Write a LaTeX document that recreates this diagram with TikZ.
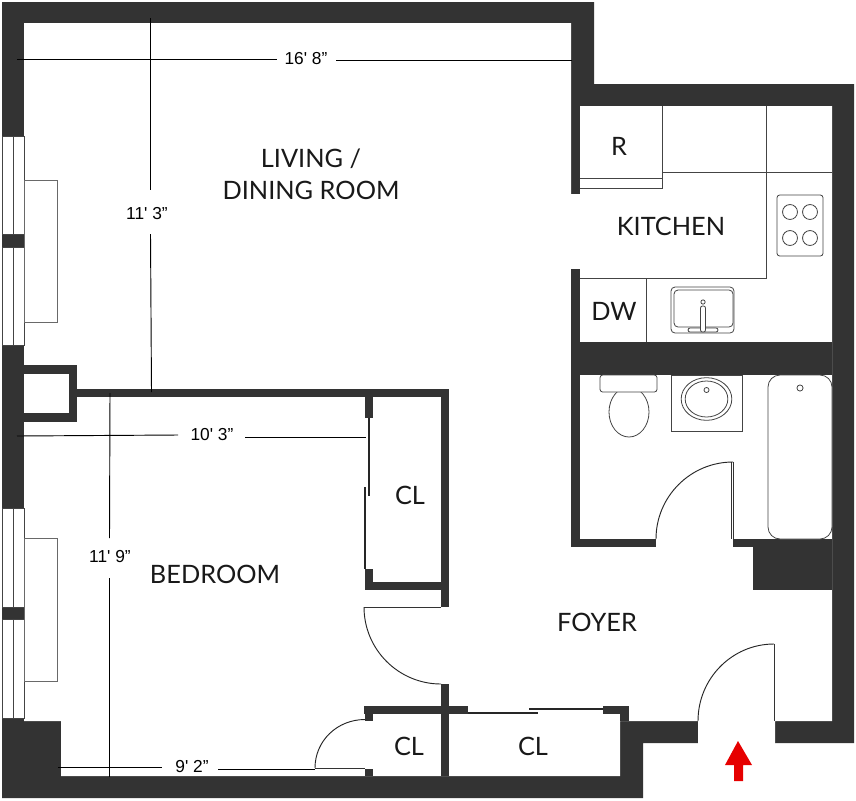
\documentclass[tikz,border=0pt]{standalone}
\usepackage{fontspec}
\setmainfont{Lato}
\newfontfamily\dimfont{Liberation Sans}
\definecolor{wallc}{HTML}{333333}
\definecolor{fixc}{HTML}{444444}
\definecolor{arrowc}{HTML}{E60000}
\tikzset{
  wall/.style={fill=wallc,draw=none},
  room/.style={fill=white,draw=none},
  fixture/.style={draw=fixc,line width=0.6pt,fill=white},
  fixline/.style={draw=fixc,line width=0.6pt},
  winpane/.style={fill=white,draw=fixc,line width=0.5pt},
  radiator/.style={fill=white,draw=fixc!80,line width=0.55pt},
  doorarc/.style={draw=black!85,line width=0.7pt},
  leaf/.style={draw=black!80,line width=0.75pt},
  slider/.style={draw=black!85,line width=1pt},
  dimline/.style={draw=black,line width=0.7pt},
  roomlabel/.style={font=\fontsize{19}{22}\selectfont,text=black!90,inner sep=0pt,align=center},
  dimlabel/.style={font=\dimfont\fontsize{13}{15}\selectfont,text=black,inner sep=0pt},
}
\begin{document}
\begin{tikzpicture}[x=0.75pt,y=-0.75pt]
\useasboundingbox (0,0) rectangle (856,800);
% outer shell and floor area
\fill[wall] (2,2)--(594,2)--(594,84)--(854,84)--(854,743)--(775,743)--(775,721)--(698,721)--(698,743)--(643,743)--(643,798)--(2,798)--cycle;
\fill[room] (24,23)--(571,23)--(571,194)--(580,194)--(580,106)--(832,106)--(832,721)--(775,721)--(775,743)--(698,743)--(698,721)--(620,721)--(620,776)--(61,776)--(61,721)--(24,721)--cycle;
% inner walls
\fill[wall] (571,269) rectangle (580,547);
\fill[wall] (580,342) rectangle (832,375);
\fill[wall] (580,539) rectangle (656,547);
\fill[wall] (733,539) rectangle (753,547);
\fill[wall] (753,539) rectangle (832,590);
\fill[wall] (24,365) rectangle (77,422);
\fill[room] (24,374) rectangle (69,413);
\fill[wall] (77,389) rectangle (449,397);
\fill[wall] (441,389) rectangle (449,607);
\fill[wall] (365,397) rectangle (373,418);
\fill[wall] (365,569) rectangle (373,590);
\fill[wall] (365,582) rectangle (441,590);
\fill[wall] (441,684) rectangle (449,776);
\fill[wall] (364,706) rectangle (468,714);
\fill[wall] (365,714) rectangle (373,721);
\fill[wall] (365,769) rectangle (373,776);
\fill[wall] (603,706) rectangle (629,714);
\fill[wall] (620,706) rectangle (629,721);
% windows
\foreach \ya/\yb in {136/234,247/345,508/607,619/718}{
  \path[winpane] (2,\ya) rectangle (13,\yb);
  \path[winpane] (13,\ya) rectangle (24,\yb);
}
% radiators
\path[radiator] (24,180) rectangle (57,322);
\path[radiator] (24,538) rectangle (57,681);
% kitchen fittings
\draw[fixline] (580,178)--(662,178);
\draw[fixline] (580,188)--(662,188)--(662,106);
\draw[fixline] (662,172)--(832,172);
\draw[fixline] (766,106)--(766,278)--(580,278);
\draw[fixline] (646,278)--(646,342);
\path[fixture,rounded corners=2pt] (777,195) rectangle (823,256);
\foreach \cx in {790,810}{\foreach \cy in {212,238}{
  \draw[fixline] (\cx,\cy) circle[radius=5.6pt];
}}
\path[fixture,rounded corners=3pt] (671,287) rectangle (734,333);
\path[fixline,rounded corners=3pt] (674,290) rectangle (733,327);
\path[fixture,rounded corners=1.5pt] (688,328) rectangle (718,332);
\path[fixture,rounded corners=1.5pt] (700.5,306) rectangle (705.5,332);
\draw[fixline] (703,302) circle[radius=1.6pt];
% bathroom fittings
\path[fixture] (629,412) ellipse[x radius=15pt,y radius=18.75pt];
\path[fixture,rounded corners=2pt] (600,375) rectangle (657,392);
\path[fixture] (671,375) rectangle (742,431);
\draw[fixline] (706.5,399) ellipse[x radius=19pt,y radius=16pt];
\draw[fixline] (706.5,399) ellipse[x radius=16pt,y radius=13.5pt];
\path[fixture] (706.5,390) circle[radius=1.9pt];
\path[fixture,rounded corners=9pt] (768,375) rectangle (832,539);
\draw[fixline] (800,388) circle[radius=2.3pt];
% doors
\draw[leaf] (731,462)--(731,539);
\draw[leaf] (733,462)--(733,539);
\draw[doorarc] (656,539) .. controls (656,496.5) and (690.5,462) .. (733,462);
\draw[leaf] (364,607)--(441,607);
\draw[doorarc] (364,607) .. controls (364,649.5) and (398.5,684) .. (441,684);
\draw[leaf] (315,768)--(365,768);
\draw[doorarc] (315,768) .. controls (315,741) and (337,719.5) .. (365,719.5);
\draw[leaf] (774,644)--(774,721);
\draw[doorarc] (698,721) .. controls (698,678.5) and (732,644) .. (774,644);
% sliding doors
\coordinate (sa1) at (369,418); \coordinate (sa2) at (369,496);
\coordinate (sb1) at (365,487); \coordinate (sb2) at (365,569);
\coordinate (sc1) at (468,713); \coordinate (sc2) at (538,713);
\coordinate (sd1) at (529,709); \coordinate (sd2) at (603,709);
\draw[slider] (sa1)--(sa2);
\draw[slider] (sb1)--(sb2);
\draw[slider] (sc1)--(sc2);
\draw[slider] (sd1)--(sd2);
% entry arrow
\fill[arrowc] (738,741)--(752,765)--(743,765)--(743,781)--(734,781)--(734,765)--(725,765)--cycle;
% dimensions
\coordinate (wa1) at (17,59);  \coordinate (wa2) at (277,59);
\coordinate (wa3) at (336,60.5); \coordinate (wa4) at (572,60.5);
\coordinate (ha1) at (150,18); \coordinate (ha2) at (150,190);
\coordinate (ha3) at (150.5,234); \coordinate (ha4) at (151.5,392);
\coordinate (wb1) at (17,436); \coordinate (wb2) at (178,435);
\coordinate (wb3) at (245,437); \coordinate (wb4) at (366,437);
\coordinate (hb1) at (110,393); \coordinate (hb2) at (109.5,538);
\coordinate (hb3) at (109.5,578); \coordinate (hb4) at (109.5,777);
\coordinate (wc1) at (58,767.5); \coordinate (wc2) at (162,767.5);
\coordinate (wc3) at (218,769); \coordinate (wc4) at (315,769);
\foreach \p/\q in {wa1/wa2,wa3/wa4,ha1/ha2,ha3/ha4,wb1/wb2,wb3/wb4,hb1/hb2,hb3/hb4,wc1/wc2,wc3/wc4}{
  \draw[dimline] (\p)--(\q);
}
\node[dimlabel] (d1) at (306,59) {16' 8”};
\node[dimlabel] (d2) at (147,214) {11' 3”};
\node[dimlabel] (d3) at (212,435) {10' 3”};
\node[dimlabel] (d4) at (110,557) {11' 9”};
\node[dimlabel] (d5) at (192,767) {9' 2”};
% room labels
\node[roomlabel] (living) at (311,159) {LIVING /};
\node[roomlabel] (dining) at (311,190) {DINING ROOM};
\node[roomlabel] (kitchen) at (671,226) {KITCHEN};
\node[roomlabel] (bed) at (215,574) {BEDROOM};
\node[roomlabel] (foyer) at (597,622) {FOYER};
\node[roomlabel] (fridge) at (619,146) {R};
\node[roomlabel] (dw) at (614,311) {DW};
\node[roomlabel] (cl1) at (410,495) {CL};
\node[roomlabel] (cl2) at (409,746) {CL};
\node[roomlabel] (cl3) at (533,746) {CL};
\end{tikzpicture}
\end{document}
